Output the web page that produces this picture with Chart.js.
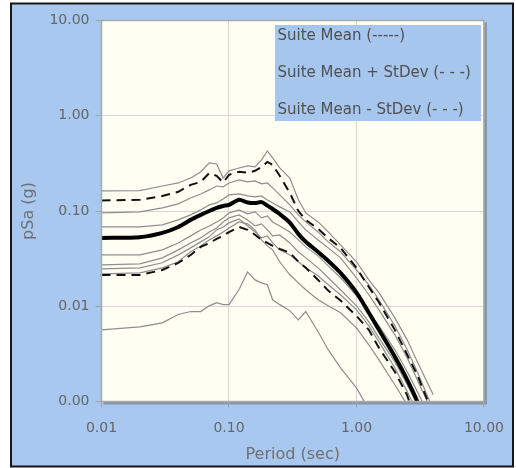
<!DOCTYPE html>
<html>
<head>
<meta charset="utf-8">
<script src="https://cdn.jsdelivr.net/npm/chart.js@4/dist/chart.umd.min.js"></script>
<style>
  html, body { margin: 0; padding: 0; background: #ffffff; }
  canvas { display: block; }
</style>
</head>
<body>
<canvas id="c" width="516" height="468"></canvas>
<script>
// Spectral periods (sec)
const periods = [0.01,0.02,0.03,0.04,0.05,0.06,0.07,0.08,0.09,0.1,0.12,0.14,0.16,0.18,0.2,0.22,0.25,0.3,0.35,0.4,0.5,0.6,0.75,1.0,1.25,1.5,2.0,2.5,3.0,4.0];

// Individual record spectra, pSa (g)
const rec1 = [0.163,0.164,0.183,0.197,0.222,0.257,0.320,0.312,0.222,0.264,0.283,0.297,0.290,0.344,0.427,0.361,0.283,0.222,0.131,0.0955,0.0768,0.0603,0.0441,0.0293,0.0189,0.0139,0.00755,0.00444,0.00261,0.00118];
const rec2 = [0.0955,0.0979,0.1078,0.1187,0.137,0.151,0.1665,0.183,0.179,0.197,0.212,0.202,0.207,0.1925,0.197,0.175,0.1475,0.1159,0.091,0.0768,0.0603,0.0474,0.0373,0.0241,0.0168,0.0117,0.00623,0.00349,0.00205,0.00082];
const rec3 = [0.068,0.068,0.0714,0.0806,0.091,0.1027,0.1159,0.1216,0.134,0.1475,0.151,0.144,0.1406,0.144,0.1307,0.1216,0.1105,0.0979,0.0768,0.0633,0.0497,0.041,0.0322,0.0199,0.0132,0.00917,0.00501,0.00287,0.00169,0.00073];
const rec4 = [0.0346,0.0346,0.0391,0.0462,0.0548,0.0633,0.0697,0.0768,0.0846,0.0955,0.1027,0.0932,0.0979,0.0846,0.0888,0.0768,0.0697,0.0603,0.0497,0.042,0.0338,0.0265,0.0199,0.0129,0.00874,0.00623,0.00349,0.00205,0.00127,0.00058];
const rec5 = [0.0272,0.0279,0.0322,0.0391,0.0462,0.0522,0.0603,0.0664,0.0768,0.0846,0.091,0.0806,0.0697,0.0732,0.0633,0.0548,0.0561,0.0462,0.0373,0.0322,0.0253,0.0199,0.0149,0.0101,0.00686,0.00466,0.00261,0.0015,0.00092,0.00036];
const rec6 = [0.0247,0.0253,0.0286,0.0346,0.041,0.0474,0.0535,0.0633,0.068,0.075,0.0826,0.0697,0.0603,0.0522,0.0548,0.0462,0.0391,0.0346,0.0293,0.0253,0.0209,0.0168,0.0132,0.00917,0.00623,0.00423,0.00226,0.00127,0.00078,0.00031];
const rec7 = [0.0219,0.0224,0.0253,0.0293,0.0373,0.043,0.0497,0.0548,0.0603,0.0664,0.0768,0.0732,0.0633,0.0497,0.043,0.0391,0.0293,0.0214,0.0176,0.0149,0.0117,0.0101,0.00853,0.00593,0.00394,0.00274,0.0015,0.00092,0.00058,0.00025];
const rec8 = [0.00565,0.00608,0.0067,0.0082,0.0088,0.0088,0.0101,0.0109,0.0104,0.0104,0.015,0.0228,0.0189,0.0176,0.0168,0.0117,0.0104,0.009,0.0072,0.0088,0.0054,0.0035,0.00225,0.00139,0.00082,0.0005,0.0003,0.0002,0.00015,0.0001];

// Suite statistics
const suiteMean = [0.0522,0.053,0.0589,0.068,0.0807,0.091,0.1,0.108,0.113,0.116,0.131,0.123,0.121,0.124,0.114,0.105,0.093,0.0757,0.0575,0.0475,0.0372,0.03,0.0224,0.0139,0.00855,0.00567,0.00295,0.00169,0.000995,0.0003];
const meanPlusSd = [0.129,0.131,0.144,0.159,0.188,0.202,0.25,0.234,0.199,0.24,0.258,0.252,0.264,0.29,0.327,0.305,0.234,0.155,0.1,0.0807,0.065,0.052,0.041,0.0253,0.0159,0.011,0.00565,0.0031,0.0019,0.00073];
const meanMinusSd = [0.0213,0.0213,0.024,0.0285,0.0345,0.042,0.046,0.051,0.055,0.06,0.068,0.0634,0.0564,0.0498,0.0463,0.0431,0.04,0.0365,0.0294,0.0253,0.0189,0.0146,0.0115,0.0079,0.00565,0.00366,0.00205,0.00116,0.00056,0.0002];

// Axis ticks
const xTickValues = [0.01, 0.1, 1, 10];
const xTickLabels = ['0.01', '0.10', '1.00', '10.00'];
const yTickValues = [0.001, 0.01, 0.1, 1, 10];
const yTickLabels = ['0.00', '0.01', '0.10', '1.00', '10.00'];

const legendLines = ['Suite Mean (-----)', 'Suite Mean + StDev (- - -)', 'Suite Mean - StDev (- - -)'];

const FONT = "'DejaVu Sans', Verdana, sans-serif";
const BLUE = '#a8c8f0';

function pts(vals) { return periods.map((p, i) => ({ x: p, y: vals[i] })); }

const records = [rec1, rec2, rec3, rec4, rec5, rec6, rec7, rec8];

const datasets = [
  { label: 'Suite Mean', data: pts(suiteMean), borderColor: '#000', borderWidth: 4, tension: 0.25, order: 0 },
  { label: 'Suite Mean + StDev', data: pts(meanPlusSd), borderColor: '#111', borderWidth: 2, borderDash: [9, 6], order: 1 },
  { label: 'Suite Mean - StDev', data: pts(meanMinusSd), borderColor: '#111', borderWidth: 2, borderDash: [9, 6], order: 1 }
];
records.forEach((r, i) => datasets.push({
  label: 'Record ' + (i + 1), data: pts(r), borderColor: '#8e8e8e', borderWidth: 1.2, order: 2
}));

// Frame, page colour and plot panel
const framePlugin = {
  id: 'frame',
  beforeDraw(chart) {
    const ctx = chart.ctx, a = chart.chartArea;
    ctx.save();
    ctx.fillStyle = '#ffffff';
    ctx.fillRect(0, 0, chart.width, chart.height);
    ctx.fillStyle = BLUE;
    ctx.fillRect(11, 3, 502, 464);
    ctx.strokeStyle = '#151515';
    ctx.lineWidth = 2;
    ctx.strokeRect(11, 3.5, 502, 463);
    // panel shadow
    ctx.fillStyle = 'rgba(90,90,90,0.45)';
    ctx.fillRect(a.left + 2, a.top + 2, a.right - a.left + 1, a.bottom - a.top + 1);
    ctx.fillStyle = '#fefef2';
    ctx.fillRect(a.left, a.top, a.right - a.left, a.bottom - a.top);
    ctx.restore();
  },
  afterDatasetsDraw(chart) {
    const ctx = chart.ctx, a = chart.chartArea;
    ctx.save();
    ctx.strokeStyle = '#a9a9a9';
    ctx.lineWidth = 1.5;
    ctx.strokeRect(a.left, a.top, a.right - a.left, a.bottom - a.top);
    // legend panel
    ctx.fillStyle = '#a6c6ee';
    ctx.fillRect(275, 25, 206, 96);
    ctx.fillStyle = '#505050';
    ctx.font = '15px ' + FONT;
    ctx.textBaseline = 'middle';
    ctx.textAlign = 'left';
    legendLines.forEach((t, i) => ctx.fillText(t, 277.5, 36 + i * 37));
    ctx.restore();
  }
};

new Chart(document.getElementById('c'), {
  type: 'line',
  data: { datasets },
  options: {
    responsive: false,
    animation: false,
    devicePixelRatio: 1,
    layout: { padding: { left: 12, right: 28.5, top: 20.5, bottom: 0 } },
    elements: { point: { radius: 0 }, line: { fill: false } },
    plugins: { legend: { display: false }, tooltip: { enabled: false } },
    scales: {
      x: {
        type: 'logarithmic',
        min: 0.01, max: 10,
        afterBuildTicks(s) { s.ticks = xTickValues.map(v => ({ value: v })); },
        afterFit(s) { s.height = 66.5; },
        grid: { color: '#d6d6d6', lineWidth: 1, tickLength: 6, tickColor: '#a0a0a0' },
        border: { display: false },
        ticks: {
          autoSkip: false, maxRotation: 0, padding: 12,
          color: '#666', font: { family: FONT, size: 14 },
          callback: (v, i) => xTickLabels[i]
        },
        title: {
          display: true, text: 'Period (sec)', color: '#707070',
          font: { family: FONT, size: 16 }, padding: { top: 0, bottom: 3.4 }
        }
      },
      y: {
        type: 'logarithmic',
        min: 0.001, max: 10,
        afterBuildTicks(s) { s.ticks = yTickValues.map(v => ({ value: v })); },
        afterFit(s) { s.width = 89.5; },
        grid: { color: '#d6d6d6', lineWidth: 1, tickLength: 6, tickColor: '#a0a0a0' },
        border: { display: false },
        ticks: {
          autoSkip: false, padding: 6,
          color: '#666', font: { family: FONT, size: 14 },
          callback: (v, i) => yTickLabels[i]
        },
        title: {
          display: true, text: 'pSa (g)', color: '#707070',
          font: { family: FONT, size: 16 }, padding: { top: 7.5, bottom: 0 }
        }
      }
    }
  },
  plugins: [framePlugin]
});
</script>
</body>
</html>
